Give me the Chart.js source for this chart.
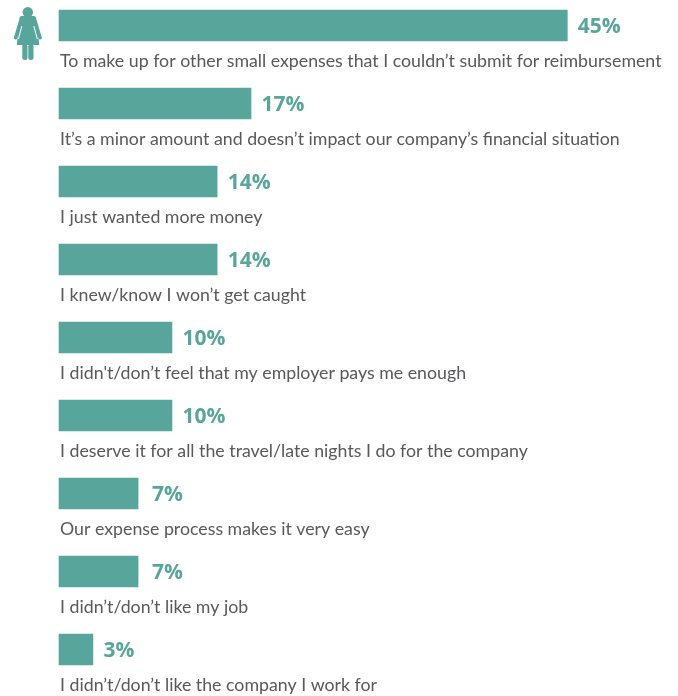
<!DOCTYPE html>
<html>
<head>
<meta charset="utf-8">
<title>Reasons</title>
<script src="https://cdn.jsdelivr.net/npm/chart.js@4/dist/chart.umd.min.js"></script>
<style>
  html, body { margin: 0; padding: 0; background: #fff; overflow: hidden; }
  #wrap { position: relative; width: 678px; height: 696px; }
  #icon { position: absolute; left: 0; top: 0; }
  canvas { display: block; }
</style>
</head>
<body>
<div id="wrap">
  <canvas id="reasonsChart" width="678" height="696"></canvas>
  <svg id="icon" width="56" height="66" viewBox="0 0 56 66">
    <g fill="#58a69b">
      <circle cx="27.800" cy="12.300" r="5.200"/>
      <path d="M22.500 16h10.600c1.300 0 2.200.6 2.700 1.800L39.300 45H16.700l3.100-27.200c.5-1.200 1.400-1.800 2.700-1.800z"/>
      <rect x="22.300" y="44" width="5.200" height="16" rx="2.200"/>
      <rect x="28.300" y="44" width="5.200" height="16" rx="2.200"/>
    </g>
    <g fill="none" stroke="#58a69b" stroke-width="3.400" stroke-linecap="round">
      <path d="M21.500 18L15.600 37.800"/>
      <path d="M34.200 18L40.100 37.800"/>
    </g>
    <g fill="none" stroke="#fff" stroke-width="1">
      <path d="M21.900 26L18.400 39"/>
      <path d="M33.800 26L37.300 39"/>
    </g>
  </svg>
</div>
<script>
// 各项原因及占比（%）
const reasons = [
    'To make up for other small expenses that I couldn’t submit for reimbursement',
    'It’s a minor amount and doesn’t impact our company’s financial situation',
    'I just wanted more money',
    'I knew/know I won’t get caught',
    'I didn\'t/don’t feel that my employer pays me enough',
    'I deserve it for all the travel/late nights I do for the company',
    'Our expense process makes it very easy',
    'I didn’t/don’t like my job',
    'I didn’t/don’t like the company I work for'
];
const percents = [45, 17, 14, 14, 10, 10, 7, 7, 3];

const BAR_COLOR = '#58a69b';
const TEXT_COLOR = '#58595b';
const VALUE_FONT = '"Open Sans", sans-serif';
const REASON_FONT = 'Lato, sans-serif';

// 在每根柱子右侧写数值，下方写原因
const barLabels = {
    id: 'barLabels',
    afterDatasetsDraw(chart) {
        const ctx = chart.ctx;
        const bars = chart.getDatasetMeta(0).data;
        ctx.save();
        ctx.textAlign = 'left';
        ctx.textBaseline = 'alphabetic';
        bars.forEach((bar, i) => {
            const gap = percents[i] === 7 ? 14 : 10.5;
            ctx.fillStyle = BAR_COLOR;
            ctx.font = 'bold 21px ' + VALUE_FONT;
            ctx.fillText(percents[i] + '%', bar.x + gap, bar.y + 7);
            ctx.fillStyle = TEXT_COLOR;
            ctx.font = '17.75px ' + REASON_FONT;
            ctx.fillText(reasons[i], chart.chartArea.left + 1, bar.y + 41);
        });
        ctx.restore();
    }
};

new Chart(document.getElementById('reasonsChart'), {
    type: 'bar',
    data: {
        labels: reasons,
        datasets: [{
            data: percents,
            backgroundColor: BAR_COLOR,
            barThickness: 31,
            clip: false
        }]
    },
    options: {
        indexAxis: 'y',
        responsive: false,
        animation: false,
        layout: { padding: { left: 59, right: 0, top: 25.5, bottom: 46.5 } },
        plugins: { legend: { display: false }, tooltip: { enabled: false } },
        scales: {
            x: { display: false, min: 0, max: 54.8 },
            y: { display: false, offset: false }
        }
    },
    plugins: [barLabels]
});
</script>
</body>
</html>
